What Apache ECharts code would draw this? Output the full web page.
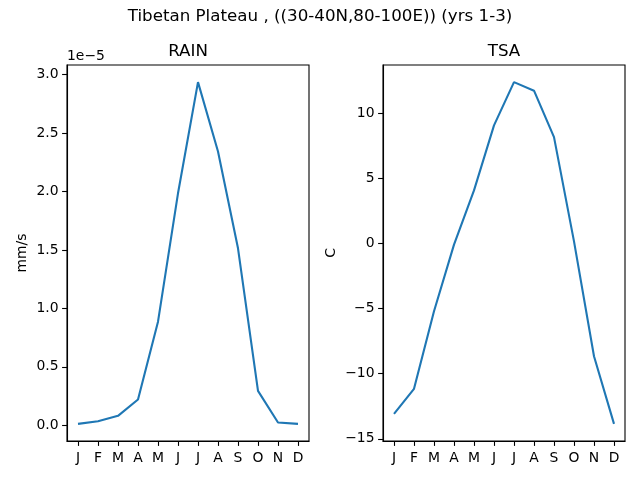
<!DOCTYPE html>
<html>
<head>
<meta charset="utf-8">
<script src="https://cdn.jsdelivr.net/npm/echarts@6/dist/echarts.min.js"></script>
<style>
  html, body { margin: 0; padding: 0; background: #fff; }
  #chart { width: 640px; height: 480px; }
</style>
</head>
<body>
<div id="chart"></div>
<script>
var months = ['J', 'F', 'M', 'A', 'M', 'J', 'J', 'A', 'S', 'O', 'N', 'D'];
// precipitation, mm/s
var rain = [0.011e-5, 0.034e-5, 0.08e-5, 0.22e-5, 0.886e-5, 1.985e-5,
            2.937e-5, 2.343e-5, 1.514e-5, 0.294e-5, 0.023e-5, 0.011e-5];
// surface air temperature, C
var tsa = [-13.09, -11.17, -5.21, -0.10, 4.06, 9.05,
           12.37, 11.71, 8.15, 0.15, -8.67, -13.86];
var rainTicks = [0, 0.5e-5, 1.0e-5, 1.5e-5, 2.0e-5, 2.5e-5, 3.0e-5];
var tsaTicks = [-15, -10, -5, 0, 5, 10];
var monthTicks = [0, 1, 2, 3, 4, 5, 6, 7, 8, 9, 10, 11];

var FONT = '"DejaVu Sans", sans-serif';
var chart = echarts.init(document.getElementById('chart'), null, {renderer: 'canvas'});

function pairs(vals) {
    return vals.map(function (v, i) { return [i, v]; });
}

// matplotlib-like 5% margins
function padExtent(vals) {
    var lo = Math.min.apply(null, vals), hi = Math.max.apply(null, vals);
    var m = (hi - lo) * 0.05;
    return [lo - m, hi + m];
}

function xAxisOf(grid) {
    return {
        type: 'value', gridIndex: grid, min: -0.55, max: 11.55,
        splitLine: {show: false},
        axisLine: {show: true, onZero: false, lineStyle: {color: '#000', width: 1.1}},
        axisTick: {show: true, length: 4.9, lineStyle: {color: '#000', width: 1.1}, customValues: monthTicks},
        axisLabel: {
            color: '#000', fontFamily: FONT, fontSize: 13.9, margin: 10,
            customValues: monthTicks,
            formatter: function (v) { return months[Math.round(v)]; }
        }
    };
}

function yAxisOf(grid, ext, ticks, fmt) {
    return {
        type: 'value', gridIndex: grid, min: ext[0], max: ext[1],
        splitLine: {show: false},
        axisLine: {show: true, onZero: false, lineStyle: {color: '#000', width: 1.1}},
        axisTick: {show: true, length: 4.9, lineStyle: {color: '#000', width: 1.1}, customValues: ticks},
        axisLabel: {
            color: '#000', fontFamily: FONT, fontSize: 13.9, margin: 8.5,
            customValues: ticks, formatter: fmt
        }
    };
}

function txt(x, y, text, size, align, valign, rot) {
    return {
        type: 'text', x: x, y: y, rotation: rot || 0,
        style: {
            text: text, x: 0, y: 0, fill: '#000',
            font: size + 'px ' + FONT,
            textAlign: align, textVerticalAlign: valign
        }
    };
}

var rainExt = padExtent(rain);
var tsaExt = padExtent(tsa);

var option = {
    animation: false,
    backgroundColor: '#fff',
    grid: [
        {left: 67, right: 331, top: 65, bottom: 39, show: true, borderColor: '#000', borderWidth: 1.1},
        {left: 383, right: 15, top: 65, bottom: 39, show: true, borderColor: '#000', borderWidth: 1.1}
    ],
    xAxis: [xAxisOf(0), xAxisOf(1)],
    yAxis: [
        yAxisOf(0, rainExt, rainTicks, function (v) { return (v / 1e-5).toFixed(1); }),
        yAxisOf(1, tsaExt, tsaTicks, function (v) { return String(Math.round(v)).replace('-', '\u2212'); })
    ],
    series: [
        {
            type: 'line', xAxisIndex: 0, yAxisIndex: 0, data: pairs(rain),
            showSymbol: false, lineStyle: {color: '#1f77b4', width: 2.1}
        },
        {
            type: 'line', xAxisIndex: 1, yAxisIndex: 1, data: pairs(tsa),
            showSymbol: false, lineStyle: {color: '#1f77b4', width: 2.1}
        }
    ],
    graphic: [
        txt(320, 17, 'Tibetan Plateau , ((30-40N,80-100E)) (yrs 1-3)', 16.7, 'center', 'middle'),
        txt(188, 52, 'RAIN', 16.7, 'center', 'middle'),
        txt(504, 52, 'TSA', 16.7, 'center', 'middle'),
        txt(67, 56, '1e\u22125', 13.9, 'left', 'middle'),
        txt(22, 253, 'mm/s', 13.9, 'center', 'middle', Math.PI / 2),
        txt(331, 253, 'C', 13.9, 'center', 'middle', Math.PI / 2)
    ]
};
chart.setOption(option);
</script>
</body>
</html>
